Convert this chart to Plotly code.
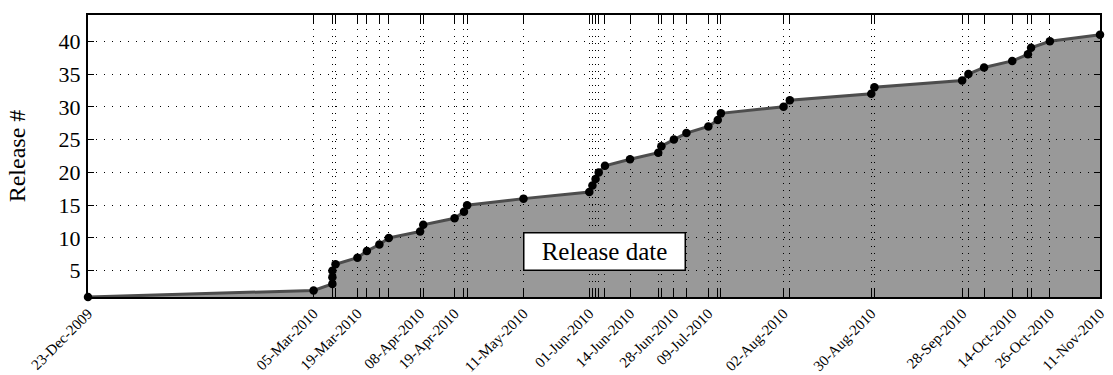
import plotly.graph_objects as go
import pandas as pd

release_dates = [
    "2009-12-23", "2010-03-05", "2010-03-11", "2010-03-11", "2010-03-11",
    "2010-03-12", "2010-03-19", "2010-03-22", "2010-03-26", "2010-03-29",
    "2010-04-08", "2010-04-09", "2010-04-19", "2010-04-22", "2010-04-23",
    "2010-05-11", "2010-06-01", "2010-06-02", "2010-06-03", "2010-06-04",
    "2010-06-06", "2010-06-14", "2010-06-23", "2010-06-24", "2010-06-28",
    "2010-07-02", "2010-07-09", "2010-07-12", "2010-07-13", "2010-08-02",
    "2010-08-04", "2010-08-30", "2010-08-31", "2010-09-28", "2010-09-30",
    "2010-10-05", "2010-10-14", "2010-10-19", "2010-10-20", "2010-10-26",
    "2010-11-11",
]
release_numbers = list(range(1, len(release_dates) + 1))

labeled_dates = [
    "2009-12-23", "2010-03-05", "2010-03-19", "2010-04-08", "2010-04-19",
    "2010-05-11", "2010-06-01", "2010-06-14", "2010-06-28", "2010-07-09",
    "2010-08-02", "2010-08-30", "2010-09-28", "2010-10-14", "2010-10-26",
    "2010-11-11",
]
y_ticks = [5, 10, 15, 20, 25, 30, 35, 40]

dates = pd.to_datetime(release_dates)
unique_dates = sorted(set(dates))
labeled = set(pd.to_datetime(labeled_dates))
tick_text = [d.strftime("%d-%b-%Y") if d in labeled else "" for d in unique_dates]

SERIF = "Liberation Serif"

fig = go.Figure()
fig.add_trace(go.Scatter(
    x=dates, y=release_numbers,
    mode="lines+markers",
    fill="tozeroy",
    fillcolor="rgba(0,0,0,0.4)",
    line=dict(color="#4d4d4d", width=3),
    marker=dict(color="black", size=8.5),
    cliponaxis=False,
    showlegend=False,
))

fig.update_layout(
    width=1113, height=375,
    margin=dict(l=88, r=13, t=15, b=78),
    paper_bgcolor="white", plot_bgcolor="white",
    font=dict(family=SERIF, color="black"),
    annotations=[dict(
        text="Release date", xref="paper", yref="paper",
        x=0.5104, y=0.163, xanchor="center", yanchor="middle",
        showarrow=False, font=dict(family=SERIF, size=25, color="black"),
        bgcolor="white", bordercolor="black", borderwidth=1.5,
        width=158, height=34, borderpad=1,
    )],
)

fig.update_xaxes(
    type="date", automargin=False,
    range=[dates.min(), dates.max()],
    tickvals=unique_dates, ticktext=tick_text,
    tickangle=-45, tickfont=dict(family=SERIF, size=15),
    ticks="inside", ticklen=9, tickwidth=1, tickcolor="black",
    showline=True, linecolor="black", linewidth=2, mirror="ticks",
    showgrid=True, gridcolor="black", gridwidth=1, griddash="1px,6px",
    zeroline=False,
)
fig.update_yaxes(
    automargin=False,
    range=[1, 44],
    tickvals=y_ticks,
    tickfont=dict(family=SERIF, size=22),
    ticks="inside", ticklen=6, tickwidth=1, tickcolor="black",
    ticklabelstandoff=1,
    showline=True, linecolor="black", linewidth=2, mirror="ticks",
    showgrid=True, gridcolor="black", gridwidth=1, griddash="1px,7px",
    zeroline=False,
    title=dict(text="Release #", font=dict(family=SERIF, size=24), standoff=26),
)

fig.write_html("out.html")
